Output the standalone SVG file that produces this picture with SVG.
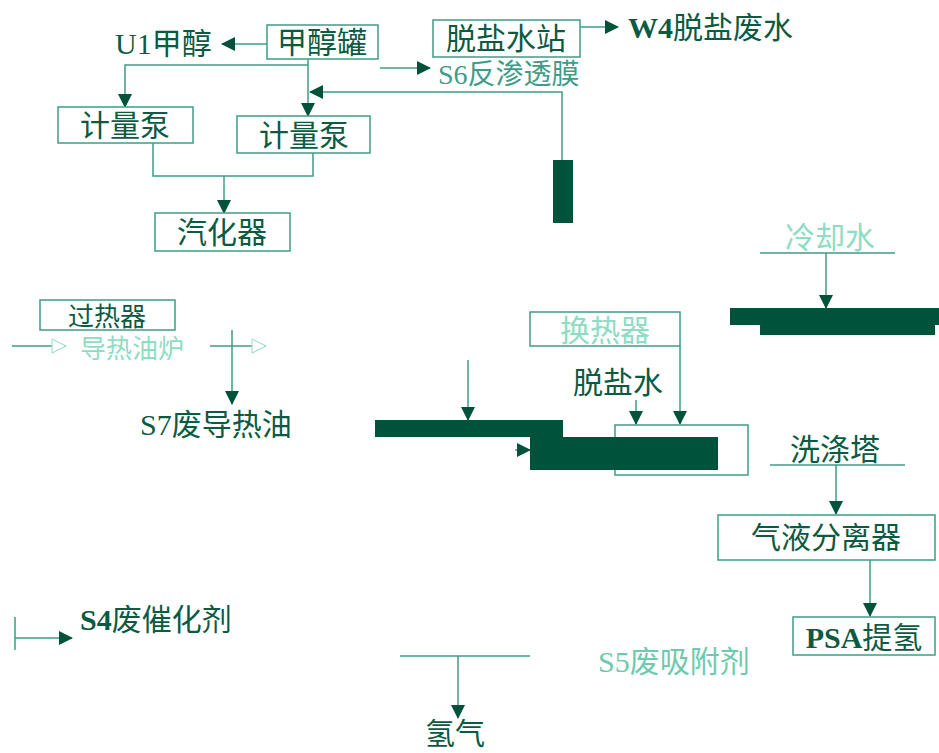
<svg xmlns="http://www.w3.org/2000/svg" width="939" height="753" viewBox="0 0 939 753">
<style>
.t{font-family:"Liberation Serif","Noto Sans CJK SC",serif;font-size:30px;fill:#0b5a42}
.b{fill:#fff;stroke:#3f9c86;stroke-width:1.5}
.l{fill:none;stroke:#3f9c86;stroke-width:1.5}
.blk{fill:#00533a}
</style>
<defs>
<marker id="a" markerWidth="14" markerHeight="14" refX="13" refY="7" orient="auto" markerUnits="userSpaceOnUse" viewBox="0 0 14 14"><path d="M0,0L14,7L0,14z" fill="#00533a"/></marker>
<marker id="h" markerWidth="16" markerHeight="16" refX="15" refY="8" orient="auto" markerUnits="userSpaceOnUse" viewBox="0 0 16 16"><path d="M1,1L15,8L1,15z" fill="#fff" stroke="#8fdcc4"/></marker>
</defs>
<rect width="939" height="753" fill="#fff"/>
<g id="connectors">
<path class="l" d="M267,44H222" marker-end="url(#a)"/>
<path class="l" d="M308,58V116" marker-end="url(#a)"/>
<path class="l" d="M308,65H125V107" marker-end="url(#a)"/>
<path class="l" d="M380,68H430" marker-end="url(#a)"/>
<path class="l" d="M580,27H618" marker-end="url(#a)"/>
<path class="l" d="M562,160V92H310" marker-end="url(#a)"/>
<path class="l" d="M153,143V176H313V153"/>
<path class="l" d="M224,176V213" marker-end="url(#a)"/>
<path class="l" d="M12,346H66" marker-end="url(#h)"/>
<path class="l" d="M210,346H266" marker-end="url(#h)"/>
<path class="l" d="M232,330V404" marker-end="url(#a)"/>
<path class="l" d="M468,360V420" marker-end="url(#a)"/>
<path class="l" d="M760,253H895M826,253V308" marker-end="url(#a)"/>
<path class="l" d="M680,346V424" marker-end="url(#a)"/>
<path class="l" d="M636,400V424" marker-end="url(#a)"/>
<path class="l" d="M770,465H905M836,465V514" marker-end="url(#a)"/>
<path class="l" d="M870,560V616" marker-end="url(#a)"/>
<path class="l" d="M400,656H530M458,656V718" marker-end="url(#a)"/>
<path class="l" d="M15,617V650M15,638H72" marker-end="url(#a)"/>
</g>
<g id="n-u1"><text class="t" x="115" y="54">U1甲醇</text></g>
<g id="n-tank"><rect class="b" x="267" y="25" width="111" height="34"/><text class="t" x="322" y="53" text-anchor="middle">甲醇罐</text></g>
<g id="n-desalt"><rect class="b" x="433" y="20" width="147" height="37"/><text class="t" x="506" y="49" text-anchor="middle">脱盐水站</text></g>
<g id="n-w4"><text class="t" x="628" y="38" font-weight="bold">W4<tspan font-weight="normal">脱盐废水</tspan></text></g>
<g id="n-s6"><text class="t" x="438" y="84" style="fill:#3f9c86;font-size:28px">S6反渗透膜</text></g>
<g id="n-pump1"><rect class="b" x="58" y="107" width="135" height="36"/><text class="t" x="125" y="136" text-anchor="middle">计量泵</text></g>
<g id="n-pump2"><rect class="b" x="237" y="116" width="133" height="37"/><text class="t" x="304" y="146" text-anchor="middle">计量泵</text></g>
<rect class="blk" x="553" y="160" width="20" height="63"/>
<g id="n-vap"><rect class="b" x="155" y="213" width="135" height="38"/><text class="t" x="222" y="243" text-anchor="middle">汽化器</text></g>
<g id="n-sup"><rect class="b" x="40" y="300" width="135" height="30"/><text class="t" x="107" y="326" text-anchor="middle" style="font-size:26px">过热器</text></g>
<g id="n-oil"><text class="t" x="80" y="358" style="fill:#8fdcc4;font-size:26px">导热油炉</text></g>
<g id="n-s7"><text class="t" x="140" y="435">S7废导热油</text></g>
<g id="n-conv"><rect class="b" x="530" y="312" width="150" height="34"/><text class="t" x="605" y="341" text-anchor="middle" style="fill:#8fdcc4">换热器</text></g>
<g id="n-cw"><text class="t" x="830" y="248" text-anchor="middle" style="fill:#8fdcc4">冷却水</text></g>
<g id="n-cond"><rect class="blk" x="730" y="308" width="209" height="17"/><rect class="blk" x="760" y="325" width="175" height="10"/></g>
<g id="n-dw"><text class="t" x="573" y="393">脱盐水</text></g>
<rect class="blk" x="375" y="420" width="188" height="17"/>
<g id="n-wash"><rect class="b" x="615" y="425" width="133" height="50"/><rect class="blk" x="530" y="437" width="188" height="33"/><path class="l" d="M515,450H530" marker-end="url(#a)"/></g>
<g id="n-wash2"><text class="t" x="790" y="460">洗涤塔</text></g>
<g id="n-sep"><rect class="b" x="718" y="515" width="217" height="45"/><text class="t" x="826" y="548" text-anchor="middle">气液分离器</text></g>
<g id="n-psa"><rect class="b" x="793" y="617" width="142" height="38"/><text class="t" x="864" y="648" text-anchor="middle" font-weight="bold">PSA<tspan font-weight="normal">提氢</tspan></text></g>
<g id="n-s5"><text class="t" x="598" y="672" style="fill:#6ccaae">S5废吸附剂</text></g>
<g id="n-s4"><text class="t" x="80" y="630" font-weight="bold">S4<tspan font-weight="normal">废催化剂</tspan></text></g>
<g id="n-h2"><text class="t" x="425" y="744">氢气</text></g>
</svg>
